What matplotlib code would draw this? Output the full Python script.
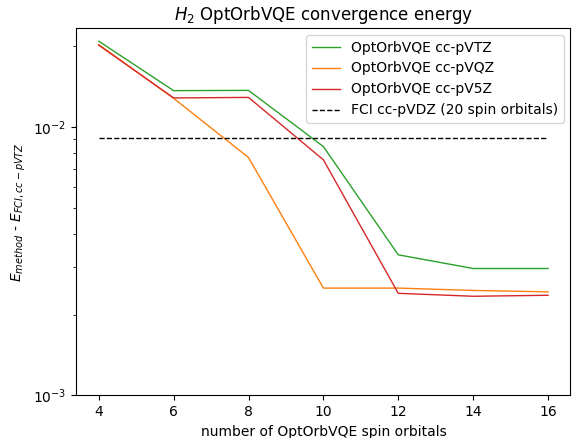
import matplotlib
matplotlib.use('Agg')
from matplotlib import pyplot as plt

orbitals = [4, 6, 8, 10, 12, 14, 16]
vtz = [0.0209, 0.01367, 0.0137, 0.00846, 0.00334, 0.00297, 0.00297]
vqz = [0.0203, 0.0128, 0.0077, 0.00251, 0.00251, 0.00246, 0.00243]
v5z = [0.0202, 0.01284, 0.0129, 0.00755, 0.0024, 0.00234, 0.00236]
fci_vdz = 0.00908


if __name__ == '__main__':
    fig = plt.figure(figsize=(5.78, 4.38), dpi=100)
    ax = fig.add_axes([0.132, 0.0975, 0.855, 0.8385])

    ax.plot(orbitals, vtz, color='tab:green', lw=1, label='OptOrbVQE cc-pVTZ')
    ax.plot(orbitals, vqz, color='tab:orange', lw=1, label='OptOrbVQE cc-pVQZ')
    ax.plot(orbitals, v5z, color='tab:red', lw=1, label='OptOrbVQE cc-pV5Z')
    ax.plot(orbitals, [fci_vdz] * len(orbitals), 'k--', lw=1,
            label='FCI cc-pVDZ (20 spin orbitals)')

    ax.set_yscale('log')
    ax.set_ylim(1e-3, 0.0234)
    ax.set_xticks(orbitals)
    ax.set_title('$H_2$ OptOrbVQE convergence energy')
    ax.set_xlabel('number of OptOrbVQE spin orbitals')
    ax.set_ylabel('$E_{method}$ - $E_{FCI, cc-pVTZ}$')
    ax.legend(loc='upper right')

    fig.savefig('out.png', dpi=100)
